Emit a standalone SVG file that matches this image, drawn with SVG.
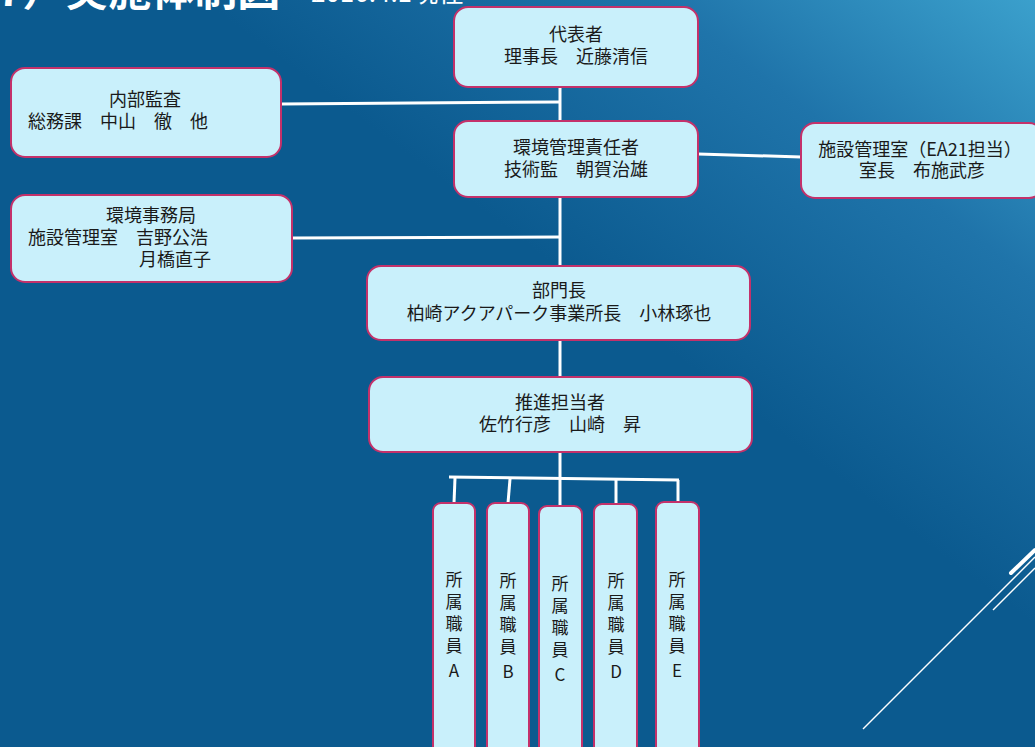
<svg xmlns="http://www.w3.org/2000/svg" width="1035" height="747" viewBox="0 0 1035 747">
<defs>
<linearGradient id="bg" gradientUnits="userSpaceOnUse" x1="1035" y1="0" x2="735" y2="400">
<stop offset="0" stop-color="#3ba0cc"/>
<stop offset="0.45" stop-color="#1f74aa"/>
<stop offset="1" stop-color="#0b5a8f"/>
</linearGradient>
<style>
.box{fill:#c9f0fb;stroke:#c4316a;stroke-width:2}
.t{font-family:"Noto Sans CJK JP","Noto Sans",sans-serif;font-size:18px;fill:#1a1a1a}
.c{text-anchor:middle}
.v{font-family:"Noto Sans CJK JP","Noto Sans",sans-serif;font-size:17px;fill:#1a1a1a;text-anchor:middle}
.ln{stroke:#ffffff;stroke-width:3;fill:none}
.title{font-family:"Noto Sans CJK JP","Noto Sans",sans-serif;fill:#ffffff}
.deco{stroke:#ffffff;fill:none}
</style>
</defs>
<rect x="0" y="0" width="1035" height="747" fill="url(#bg)"/>
<g id="title">
<text class="title" x="-3" y="6" font-size="43" font-weight="bold">7）実施体制図</text>
<text class="title" x="311" y="2" font-size="26">2016.4.1現在</text>
</g>
<g id="decoration">
<line class="deco" x1="863" y1="729" x2="1035" y2="557" stroke-width="1.5"/>
<line class="deco" x1="993" y1="610" x2="1035" y2="568" stroke-width="1.5"/>
<line class="deco" x1="1011" y1="573" x2="1035" y2="550" stroke-width="4" stroke-linecap="round"/>
</g>
<g id="connectors">
<line class="ln" x1="560" y1="87" x2="560" y2="121"/>
<line class="ln" x1="560" y1="197" x2="560" y2="266"/>
<line class="ln" x1="560" y1="340" x2="560" y2="377"/>
<line class="ln" x1="560" y1="452" x2="560" y2="507"/>
<line class="ln" x1="281" y1="104" x2="560" y2="102"/>
<line class="ln" x1="698" y1="154" x2="801" y2="157"/>
<line class="ln" x1="292" y1="238" x2="560" y2="237"/>
<line class="ln" x1="449" y1="477" x2="679" y2="480"/>
<line class="ln" x1="455" y1="478" x2="454" y2="503"/>
<line class="ln" x1="510" y1="479" x2="508" y2="503"/>
<line class="ln" x1="616" y1="479" x2="616" y2="504"/>
<line class="ln" x1="678" y1="480" x2="678" y2="502"/>
</g>
<g id="n-daihyo">
<rect class="box" x="454" y="7" width="244" height="80" rx="14"/>
<text class="t c" x="576" y="41">代表者</text>
<text class="t c" x="576" y="63">理事長　近藤清信</text>
</g>
<g id="n-naibu">
<rect class="box" x="11" y="68" width="270" height="89" rx="14"/>
<text class="t" x="109" y="106">内部監査</text>
<text class="t" x="28" y="128">総務課　中山　徹　他</text>
</g>
<g id="n-sekinin">
<rect class="box" x="454" y="121" width="244" height="76" rx="14"/>
<text class="t c" x="576" y="154">環境管理責任者</text>
<text class="t c" x="576" y="176">技術監　朝賀治雄</text>
</g>
<g id="n-shisetsu">
<rect class="box" x="801" y="123" width="242" height="75" rx="14"/>
<text class="t c" x="920" y="156">施設管理室（EA21担当）</text>
<text class="t c" x="922" y="177">室長　布施武彦</text>
</g>
<g id="n-jimukyoku">
<rect class="box" x="11" y="195" width="281" height="87" rx="14"/>
<text class="t" x="106" y="222">環境事務局</text>
<text class="t" x="28" y="244">施設管理室　吉野公浩</text>
<text class="t" x="139" y="266">月橋直子</text>
</g>
<g id="n-bumoncho">
<rect class="box" x="367" y="266" width="383" height="74" rx="14"/>
<text class="t c" x="559" y="297">部門長</text>
<text class="t c" x="559" y="320">柏崎アクアパーク事業所長　小林琢也</text>
</g>
<g id="n-suishin">
<rect class="box" x="369" y="377" width="383" height="75" rx="14"/>
<text class="t c" x="560" y="409">推進担当者</text>
<text class="t c" x="560" y="431">佐竹行彦　山崎　昇</text>
</g>
<g id="n-staffA">
<rect class="box" x="433" y="503" width="42" height="260" rx="8"/>
<text class="v" x="454" y="586">所</text><text class="v" x="454" y="608">属</text><text class="v" x="454" y="630">職</text><text class="v" x="454" y="652">員</text><text class="v" x="454" y="677">A</text>
</g>
<g id="n-staffB">
<rect class="box" x="487" y="503" width="42" height="260" rx="8"/>
<text class="v" x="508" y="587">所</text><text class="v" x="508" y="609">属</text><text class="v" x="508" y="631">職</text><text class="v" x="508" y="653">員</text><text class="v" x="508" y="678">B</text>
</g>
<g id="n-staffC">
<rect class="box" x="539" y="506" width="43" height="260" rx="8"/>
<text class="v" x="560" y="590">所</text><text class="v" x="560" y="612">属</text><text class="v" x="560" y="634">職</text><text class="v" x="560" y="656">員</text><text class="v" x="560" y="681">C</text>
</g>
<g id="n-staffD">
<rect class="box" x="594" y="504" width="43" height="260" rx="8"/>
<text class="v" x="616" y="587">所</text><text class="v" x="616" y="609">属</text><text class="v" x="616" y="631">職</text><text class="v" x="616" y="653">員</text><text class="v" x="616" y="678">D</text>
</g>
<g id="n-staffE">
<rect class="box" x="656" y="502" width="43" height="260" rx="8"/>
<text class="v" x="677" y="586">所</text><text class="v" x="677" y="608">属</text><text class="v" x="677" y="630">職</text><text class="v" x="677" y="652">員</text><text class="v" x="677" y="677">E</text>
</g>
</svg>
